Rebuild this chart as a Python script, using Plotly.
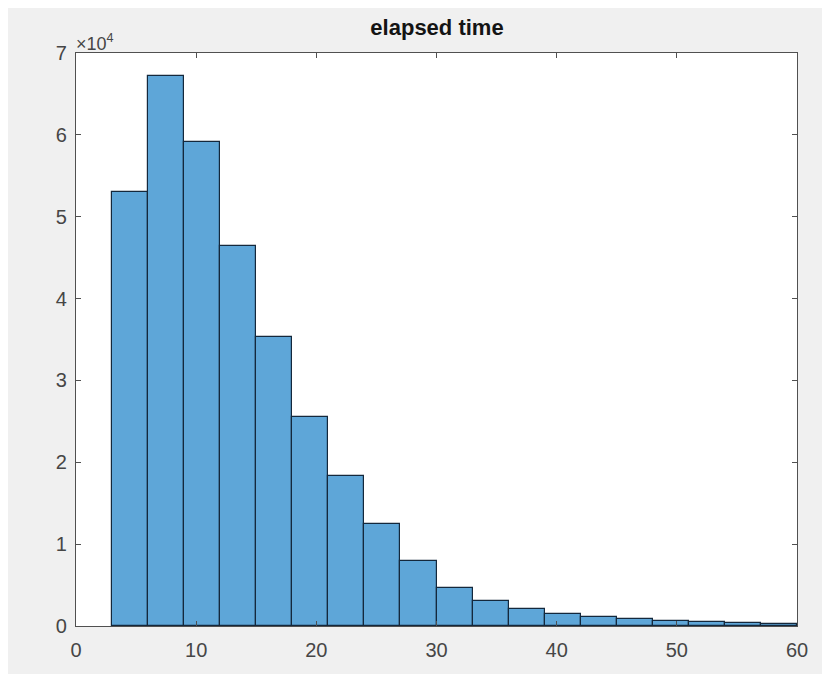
import plotly.graph_objects as go

bin_edges = [3, 6, 9, 12, 15, 18, 21, 24, 27, 30, 33, 36, 39, 42, 45, 48, 51, 54, 57, 60]
counts = [53000, 67200, 59100, 46400, 35300, 25500, 18300, 12500, 7900, 4700,
          3000, 2100, 1500, 1150, 850, 650, 500, 380, 300]
x_ticks = [0, 10, 20, 30, 40, 50, 60]
y_ticks = [0, 10000, 20000, 30000, 40000, 50000, 60000, 70000]
y_tick_text = ["0", "1", "2", "3", "4", "5", "6", "7"]

centers = [(bin_edges[i] + bin_edges[i + 1]) / 2 for i in range(len(counts))]
widths = [bin_edges[i + 1] - bin_edges[i] for i in range(len(counts))]

FONT = "Liberation Sans, Arial, sans-serif"

fig = go.Figure()
fig.add_trace(go.Bar(
    x=centers, y=counts, width=widths,
    marker=dict(color="rgb(94,166,216)", line=dict(color="rgb(20,40,60)", width=1.2)),
    hoverinfo="x+y",
))

axis_common = dict(
    showline=True, linecolor="rgb(80,80,80)", linewidth=1.3, mirror="ticks",
    ticks="inside", ticklen=5, tickcolor="rgb(80,80,80)", tickwidth=1,
    showgrid=False, zeroline=False,
    tickfont=dict(family=FONT, size=20, color="rgb(70,70,70)"),
)

fig.update_layout(
    width=830, height=674,
    margin=dict(l=68, r=41, t=45, b=56),
    paper_bgcolor="#f0f0f0", plot_bgcolor="white",
    showlegend=False,
    title=dict(text="<b>elapsed time</b>", x=(437 - 8) / 830, xanchor="center", y=1 - 19 / 674, yanchor="middle",
               font=dict(family=FONT, size=22, color="rgb(20,20,20)")),
    xaxis=dict(range=[0, 60], tickvals=x_ticks, ticklabelstandoff=6, **axis_common),
    yaxis=dict(range=[0, 70000], tickvals=y_ticks, ticktext=y_tick_text, ticklabelstandoff=4, **axis_common),
    bargap=0,
    annotations=[dict(text="×10<sup>4</sup>", xref="paper", yref="paper", x=0, y=1,
                      xanchor="left", yanchor="bottom", showarrow=False, yshift=-3, xshift=-2,
                      font=dict(family=FONT, size=18, color="rgb(70,70,70)"))],
)

fig.write_html("out.html")
